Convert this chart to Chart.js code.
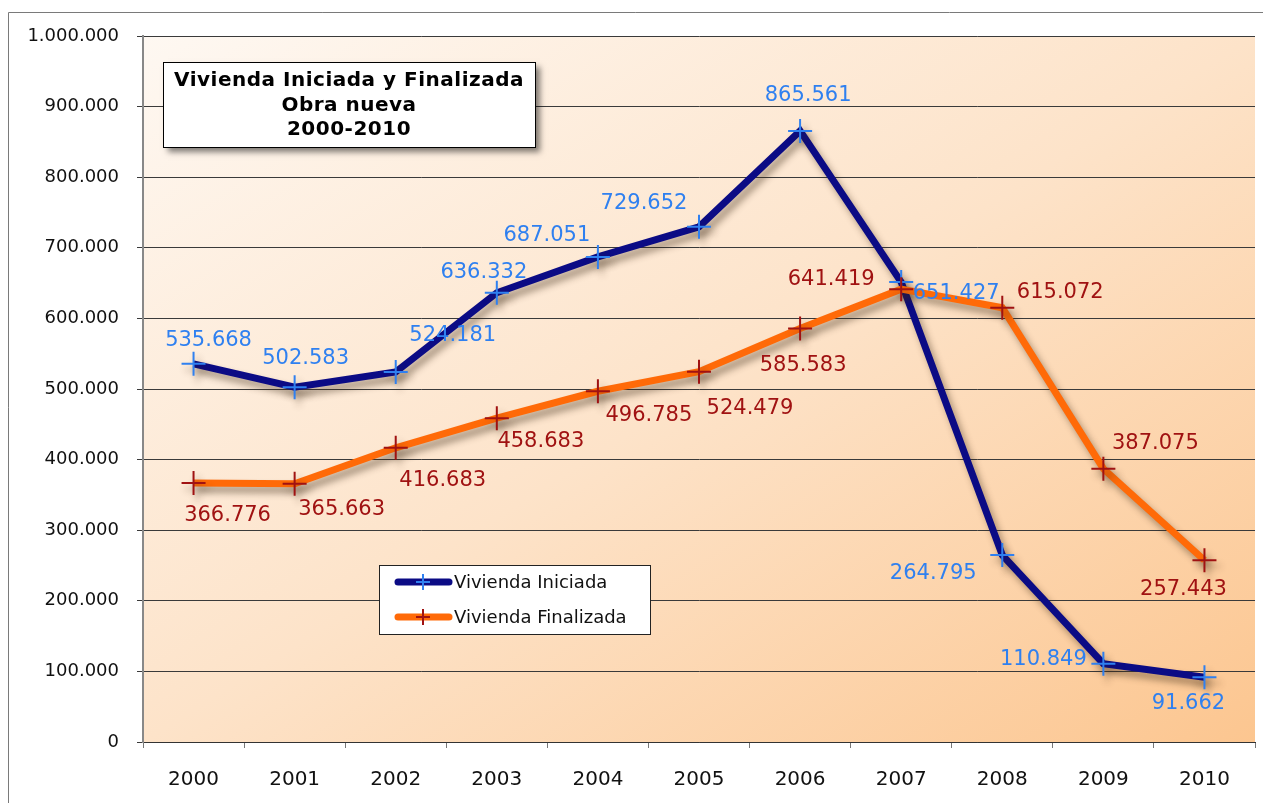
<!DOCTYPE html>
<html>
<head>
<meta charset="utf-8">
<script src="https://cdn.jsdelivr.net/npm/chart.js@4"></script>
<style>
	body { margin: 0; background: #fff; }
	canvas { display: block; }
</style>
</head>
<body>
<canvas id="viviendacanvas" width="1263" height="803"></canvas>
<script>
const years = ['2000', '2001', '2002', '2003', '2004', '2005', '2006', '2007', '2008', '2009', '2010'];
const iniciada = [535668, 502583, 524181, 636332, 687051, 729652, 865561, 651427, 264795, 110849, 91662];
const finalizada = [366776, 365663, 416683, 458683, 496785, 524479, 585583, 641419, 615072, 387075, 257443];
const titleLines = ['Vivienda Iniciada y Finalizada', 'Obra nueva', '2000-2010'];
const seriesNames = ['Vivienda Iniciada', 'Vivienda Finalizada'];

// where each value label sits relative to its point (dx, dy)
const iniOffsets = [[15, -23], [11, -29], [57, -36], [-13, -20], [-51, -21], [-55, -23], [8, -35], [55, 11], [-69, 18], [-60, -4], [-16, 26]];
const finOffsets = [[34, 32], [47, 26], [47, 33], [44, 23], [51, 24], [51, 37], [3, 37], [-70, -10], [58, -15], [52, -25], [-21, 29]];

const fontFamily = '"DejaVu Sans", Verdana, sans-serif';
const navy = '#0b0b85';
const orange = '#ff6a08';
const lightBlue = '#2f80f0';
const darkRed = '#a01212';

function fmt(v){
	return String(v).replace(/\B(?=(\d{3})+(?!\d))/g, '.');
}

const backgroundPlugin = {
	id: 'background',
	beforeDraw(chart){
		const ctx = chart.ctx;
		const a = chart.chartArea;
		ctx.save();
		ctx.fillStyle = '#fff';
		ctx.fillRect(0, 0, chart.width, chart.height);
		ctx.strokeStyle = '#7a7a7a';
		ctx.lineWidth = 1;
		ctx.beginPath();
		ctx.moveTo(8.5, chart.height);
		ctx.lineTo(8.5, 12.5);
		ctx.lineTo(chart.width, 12.5);
		ctx.stroke();
		// diagonal gradient scaled to the box, so the other two corners match
		const w = a.right - a.left;
		const h = a.bottom - a.top;
		const s = 2 * w * h / (w * w + h * h);
		const g = ctx.createLinearGradient(a.left, a.top, a.left + s * h, a.top + s * w);
		g.addColorStop(0, '#fef8f2');
		g.addColorStop(0.5, '#fde3c9');
		g.addColorStop(1, '#fcc690');
		ctx.fillStyle = g;
		ctx.fillRect(a.left, a.top, w, h);
		ctx.restore();
	}
};

const shadowPlugin = {
	id: 'lineshadow',
	beforeDatasetDraw(chart){
		const ctx = chart.ctx;
		ctx.save();
		ctx.shadowColor = 'rgba(60, 40, 20, 0.45)';
		ctx.shadowBlur = 7;
		ctx.shadowOffsetX = 4;
		ctx.shadowOffsetY = 6;
	},
	afterDatasetDraw(chart){
		chart.ctx.restore();
	}
};

const valueLabelPlugin = {
	id: 'valuelabels',
	afterDatasetsDraw(chart){
		const ctx = chart.ctx;
		ctx.save();
		ctx.font = '21px ' + fontFamily;
		ctx.textAlign = 'center';
		ctx.textBaseline = 'middle';
		const sets = [[0, iniOffsets, lightBlue], [1, finOffsets, darkRed]];
		sets.forEach(function(s){
			const meta = chart.getDatasetMeta(s[0]);
			const values = chart.data.datasets[s[0]].data;
			ctx.fillStyle = s[2];
			meta.data.forEach(function(pt, i){
				ctx.fillText(fmt(values[i]), pt.x + s[1][i][0], pt.y + s[1][i][1]);
			});
		});
		ctx.restore();
	}
};

const boxesPlugin = {
	id: 'boxes',
	afterDraw(chart){
		const ctx = chart.ctx;
		ctx.save();

		// title box
		ctx.shadowColor = 'rgba(0, 0, 0, 0.5)';
		ctx.shadowBlur = 6;
		ctx.shadowOffsetX = 5;
		ctx.shadowOffsetY = 5;
		ctx.fillStyle = '#fff';
		ctx.fillRect(163, 62, 372, 85);
		ctx.shadowColor = 'transparent';
		ctx.strokeStyle = '#000';
		ctx.lineWidth = 1;
		ctx.strokeRect(163.5, 62.5, 372, 85);
		ctx.fillStyle = '#000';
		ctx.font = 'bold 20px ' + fontFamily;
		ctx.letterSpacing = '0.5px';
		ctx.textAlign = 'center';
		ctx.textBaseline = 'middle';
		titleLines.forEach(function(t, i){
			ctx.fillText(t, 349, 81 + i * 24.5);
		});
		ctx.letterSpacing = '0px';

		// legend box
		ctx.fillStyle = '#fff';
		ctx.fillRect(379, 565, 271, 69);
		ctx.strokeStyle = '#222';
		ctx.strokeRect(379.5, 565.5, 271, 69);
		const items = [[navy, lightBlue], [orange, darkRed]];
		ctx.font = '18px ' + fontFamily;
		ctx.textAlign = 'left';
		items.forEach(function(it, i){
			const y = 582 + i * 35;
			ctx.strokeStyle = it[0];
			ctx.lineWidth = 7;
			ctx.lineCap = 'round';
			ctx.beginPath();
			ctx.moveTo(398, y);
			ctx.lineTo(449, y);
			ctx.stroke();
			ctx.strokeStyle = it[1];
			ctx.lineWidth = 2;
			ctx.lineCap = 'butt';
			ctx.beginPath();
			ctx.moveTo(416, y);
			ctx.lineTo(430, y);
			ctx.moveTo(423, y - 8);
			ctx.lineTo(423, y + 8);
			ctx.stroke();
			ctx.fillStyle = '#111';
			ctx.fillText(seriesNames[i], 454, y + 1);
		});
		ctx.restore();
	}
};

new Chart(
	document.getElementById('viviendacanvas'),
	{
		type: 'line',
		data: {
			labels: years,
			datasets: [
				{
					label: seriesNames[0],
					data: iniciada,
					borderColor: navy,
					borderWidth: 7,
					pointStyle: 'cross',
					pointRadius: 12,
					pointBorderWidth: 2,
					pointBorderColor: lightBlue,
					pointBackgroundColor: lightBlue,
					order: 1
				},
				{
					label: seriesNames[1],
					data: finalizada,
					borderColor: orange,
					borderWidth: 7,
					pointStyle: 'cross',
					pointRadius: 12,
					pointBorderWidth: 2,
					pointBorderColor: darkRed,
					pointBackgroundColor: darkRed,
					order: 0
				}
			]
		},
		options: {
			responsive: false,
			animation: false,
			layout: {
				autoPadding: false,
				padding: { top: 36, right: 8, bottom: 0, left: 0 }
			},
			plugins: {
				legend: { display: false },
				tooltip: { enabled: false }
			},
			scales: {
				x: {
					offset: true,
					grid: {
						drawOnChartArea: false,
						offset: true,
						tickLength: 6,
						color: '#777'
					},
					border: { color: '#333' },
					ticks: {
						padding: 20,
						color: '#111',
						font: { family: fontFamily, size: 20 }
					},
					afterFit: function(scale){
						scale.height = 61;
					}
				},
				y: {
					min: 0,
					max: 1000000,
					grid: {
						color: '#3a3a3a',
						tickLength: 6
					},
					border: { color: '#888', width: 2 },
					ticks: {
						stepSize: 100000,
						padding: 18,
						color: '#111',
						font: { family: fontFamily, size: 18 },
						callback: function(v){
							return fmt(v);
						}
					},
					afterFit: function(scale){
						scale.width = 143;
					}
				}
			}
		},
		plugins: [backgroundPlugin, shadowPlugin, valueLabelPlugin, boxesPlugin]
	}
);
</script>
</body>
</html>
